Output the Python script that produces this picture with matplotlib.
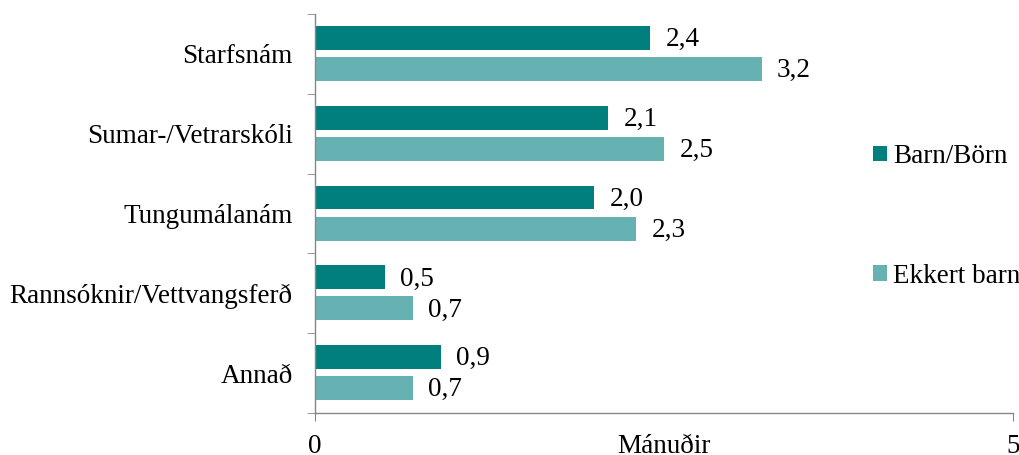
import numpy as np
import matplotlib.pyplot as plt
from matplotlib.ticker import FixedLocator

plt.rcParams['font.family'] = ['Liberation Serif', 'DejaVu Serif']

# Data
categories = ["Starfsnám", "Sumar-/Vetrarskóli", "Tungumálanám",
              "Rannsóknir/Vettvangsferð", "Annað"]
barn = [2.4, 2.1, 2.0, 0.5, 0.9]
ekkert_barn = [3.2, 2.5, 2.3, 0.7, 0.7]
series_names = ["Barn/Börn", "Ekkert barn"]

dark = "#007F7F"
light = "#66B2B2"
grey = "#868686"
fs = 19.5

fig = plt.figure(figsize=(10.19, 4.55), dpi=100)
ax = fig.add_axes([0.3091, 0.0923, 0.685, 0.877])

y = np.arange(len(categories))
h = 0.3
b1 = ax.barh(y - 0.2, barn, height=h, color=dark, label=series_names[0])
b2 = ax.barh(y + 0.19, ekkert_barn, height=h, color=light, label=series_names[1])

# Value labels with decimal comma
for bars, vals in ((b1, barn), (b2, ekkert_barn)):
    for bar, v in zip(bars, vals):
        ax.text(v + 0.11, bar.get_y() + bar.get_height() / 2 + 0.02,
                f"{v:.1f}".replace(".", ","), va="center", ha="left",
                fontsize=fs)

ax.set_xlim(0, 5)
ax.set_ylim(len(categories) - 0.5, -0.5)

ax.set_yticks(y)
ax.set_yticklabels(categories, fontsize=fs)
ax.tick_params(axis="y", which="major", length=0, pad=16)
ax.yaxis.set_minor_locator(FixedLocator(np.arange(-0.5, len(categories), 1)))
ax.tick_params(axis="y", which="minor", length=6, color=grey, direction="out")

ax.set_xticks([0, 5])
ax.set_xticklabels(["0", "5"], fontsize=fs)
ax.tick_params(axis="x", length=6, color=grey, pad=9)
ax.text(2.5, -0.0995, "Mánuðir", transform=ax.get_xaxis_transform(),
        ha="center", va="baseline", fontsize=fs)

for side in ("top", "right"):
    ax.spines[side].set_visible(False)
for side in ("left", "bottom"):
    ax.spines[side].set_color(grey)
    ax.spines[side].set_linewidth(1.0)

ax.legend(loc="center left", bbox_to_anchor=(0.8567, 0.5242),
          bbox_transform=fig.transFigure, fontsize=fs, frameon=False,
          handlelength=0.52, handleheight=0.52, handletextpad=0.22,
          labelspacing=3.5, borderaxespad=0, borderpad=0)

fig.savefig("out.png", dpi=100)
